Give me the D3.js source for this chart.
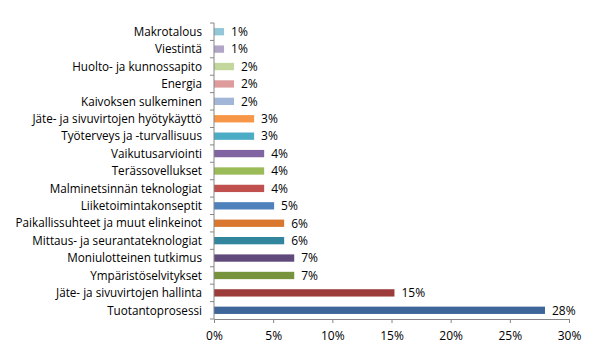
<!DOCTYPE html>
<html>
<head>
<meta charset="utf-8">
<script src="https://cdn.jsdelivr.net/npm/d3@7"></script>
<style>
  body { margin: 0; background: #fff; }
  svg { display: block; }
  text { font-family: "Open Sans", sans-serif; fill: #000; }
</style>
</head>
<body>
<div id="chart"></div>
<script>
'use strict';

// Aihealueet ylhäältä alas
var categories = [
	"Makrotalous", "Viestintä", "Huolto- ja kunnossapito", "Energia",
	"Kaivoksen sulkeminen", "Jäte- ja sivuvirtojen hyötykäyttö",
	"Työterveys ja -turvallisuus", "Vaikutusarviointi", "Terässovellukset",
	"Malminetsinnän teknologiat", "Liiketoimintakonseptit",
	"Paikallissuhteet ja muut elinkeinot", "Mittaus- ja seurantateknologiat",
	"Moniulotteinen tutkimus", "Ympäristöselvitykset",
	"Jäte- ja sivuvirtojen hallinta", "Tuotantoprosessi"
];

// Osuudet prosentteina (luettu kuvasta)
var values = [0.85, 0.85, 1.69, 1.69, 1.69, 3.39, 3.39, 4.24, 4.24, 4.24,
	5.08, 5.93, 5.93, 6.78, 6.78, 15.25, 27.97];

var barColors = [
	"#93c6d8", "#b1a5c8", "#c3d69b", "#dd9c9b", "#a2b6d8", "#f79646",
	"#4bacc6", "#8064a2", "#9bbb59", "#c0504d", "#4f81bd", "#d9772f",
	"#31859c", "#604a7b", "#77933c", "#9c3b39", "#3d659a"
];

var xTicks = [0, 5, 10, 15, 20, 25, 30];

var W = 604, H = 362;
var margin = {top: 23, right: 35, bottom: 43, left: 214};
var labelSize = 11.7;
var valueSize = 12;

var svg = d3.select("#chart").append("svg")
		.attr("width", W)
		.attr("height", H);

var x = d3.scaleLinear()
		.domain([0, 30])
		.range([margin.left, 569]);

var y = d3.scaleBand()
		.domain(categories)
		.range([margin.top, 319])
		.paddingInner(0.58)
		.paddingOuter(0.29);

// Pylväät
svg.append("g").selectAll("rect")
		.data(values)
		.enter().append("rect")
		.attr("x", x(0))
		.attr("y", function(d, i) { return y(categories[i]); })
		.attr("width", function(d) { return x(d) - x(0); })
		.attr("height", y.bandwidth())
		.attr("fill", function(d, i) { return barColors[i]; });

// Arvotekstit
svg.append("g").selectAll("text")
		.data(values)
		.enter().append("text")
		.attr("x", function(d) { return x(d) + 7; })
		.attr("y", function(d, i) { return y(categories[i]) + y.bandwidth() / 2; })
		.attr("dy", "0.36em")
		.attr("font-size", valueSize)
		.text(function(d) { return Math.round(d) + "%"; });

// Y-akseli
var yAxis = svg.append("g")
		.attr("transform", "translate(" + margin.left + ",0)");

yAxis.append("line")
		.attr("x1", 0).attr("x2", 0)
		.attr("y1", margin.top).attr("y2", 319)
		.attr("stroke", "#868686");

var step = (319 - margin.top) / categories.length;
yAxis.selectAll(".ytick")
		.data(d3.range(categories.length + 1))
		.enter().append("line")
		.attr("class", "ytick")
		.attr("x1", -4).attr("x2", 0)
		.attr("y1", function(i) { return margin.top + i * step; })
		.attr("y2", function(i) { return margin.top + i * step; })
		.attr("stroke", "#868686");

yAxis.selectAll(".ylabel")
		.data(categories)
		.enter().append("text")
		.attr("class", "ylabel")
		.attr("x", -12)
		.attr("y", function(d) { return y(d) + y.bandwidth() / 2; })
		.attr("dy", "0.36em")
		.attr("text-anchor", "end")
		.attr("font-size", labelSize)
		.text(function(d) { return d; });

// X-akseli
var xAxis = svg.append("g")
		.attr("transform", "translate(0,319)")
		.call(d3.axisBottom(x)
				.tickValues(xTicks)
				.tickSize(4)
				.tickPadding(8)
				.tickFormat(function(d) { return d + "%"; }));

xAxis.select(".domain").attr("stroke", "#868686");
xAxis.selectAll(".tick line").attr("stroke", "#868686");
xAxis.selectAll(".tick text")
		.attr("font-size", valueSize)
		.style("font-family", "'Open Sans', sans-serif");
</script>
</body>
</html>
